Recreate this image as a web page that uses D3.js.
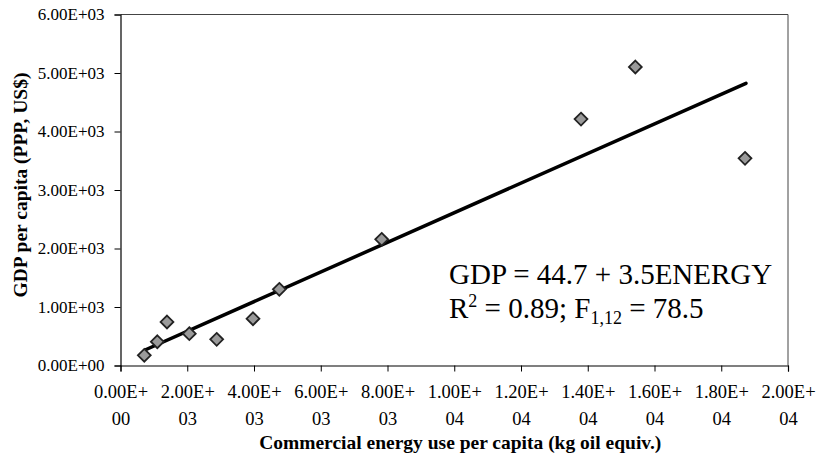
<!DOCTYPE html>
<html>
<head>
<meta charset="utf-8">
<script src="https://cdn.jsdelivr.net/npm/d3@7"></script>
<style>
  body { margin: 0; background: #fff; }
  text { font-family: "Liberation Serif", "Times New Roman", serif; }
</style>
</head>
<body>
<div id="chart"></div>
<script>
// Chart size.
var width = 818;
var height = 464;
var margin = { top: 14.5, right: 30, bottom: 98.5, left: 120.5 };

// Data.
var energy = [713, 1103, 1393, 2062, 2882, 3970, 4759, 7826, 13798, 15426, 18712];
var gdp = [174, 407, 744, 544, 447, 800, 1302, 2157, 4212, 5103, 3541];

// Fitted line end points.
var fitX = [734, 18740];
var fitY = [265, 4824];

var xTicks = [0, 2000, 4000, 6000, 8000, 10000, 12000, 14000, 16000, 18000, 20000];
var yTicks = [0, 1000, 2000, 3000, 4000, 5000, 6000];

var plotW = width - margin.left - margin.right;
var plotH = height - margin.top - margin.bottom;

var svg = d3.select("#chart").append("svg")
    .attr("width", width)
    .attr("height", height);

var g = svg.append("g")
    .attr("transform", "translate(" + margin.left + "," + margin.top + ")");

var x = d3.scaleLinear().domain([0, 20000]).range([0, plotW]);
var y = d3.scaleLinear().domain([0, 6000]).range([plotH, 0]);

// Format like "2.00E+03".
function sci(v) {
  if (v === 0) return "0.00E+00";
  var e = Math.floor(Math.log10(v));
  var m = v / Math.pow(10, e);
  return m.toFixed(2) + "E+" + (e < 10 ? "0" : "") + e;
}

// Plot frame (top and right).
g.append("path")
    .attr("d", "M0,0H" + plotW + "V" + plotH)
    .attr("fill", "none")
    .attr("stroke", "#444")
    .attr("stroke-width", 1);

// Y axis.
var yAxis = g.append("g")
    .call(d3.axisLeft(y).tickValues(yTicks).tickFormat(sci).tickSize(6).tickPadding(10));
yAxis.attr("font-size", null).attr("font-family", null);
yAxis.select(".domain").attr("stroke", "#000").attr("stroke-width", 1.2);
yAxis.selectAll("text")
    .style("font-size", "17px")
    .attr("fill", "#000");

// X axis, labels wrapped in two lines.
var xAxis = g.append("g")
    .attr("transform", "translate(0," + plotH + ")")
    .call(d3.axisBottom(x).tickValues(xTicks).tickFormat("").tickSize(6));
xAxis.attr("font-size", null).attr("font-family", null);
xAxis.select(".domain").attr("stroke", "#000").attr("stroke-width", 1.2);

var xl = xAxis.selectAll(".tick").append("text")
    .attr("text-anchor", "middle")
    .attr("fill", "#000")
    .style("font-size", "18.5px");
xl.append("tspan")
    .attr("x", 0)
    .attr("y", 32)
    .text(function(d) { return sci(d).slice(0, 6); });
xl.append("tspan")
    .attr("x", 0)
    .attr("y", 59)
    .text(function(d) { return sci(d).slice(6); });

// Fitted line.
var line = d3.line()
    .x(function(d) { return x(d[0]); })
    .y(function(d) { return y(d[1]); });
g.append("path")
    .datum(d3.zip(fitX, fitY))
    .attr("d", line)
    .attr("fill", "none")
    .attr("stroke", "#000")
    .attr("stroke-width", 3.5)
    .attr("stroke-linecap", "round");

// Diamond markers.
var diamond = d3.symbol().type(d3.symbolDiamond2).size(105);
g.selectAll(".pt")
    .data(d3.zip(energy, gdp))
    .enter().append("path")
    .attr("class", "pt")
    .attr("transform", function(d) { return "translate(" + x(d[0]) + "," + y(d[1]) + ")"; })
    .attr("d", diamond)
    .attr("fill", "#9a9a9a")
    .attr("stroke", "#222")
    .attr("stroke-width", 1.8);

// Equation text.
var eq = svg.append("g").attr("font-size", 29).attr("fill", "#000");
eq.append("text")
    .attr("x", 449)
    .attr("y", 284)
    .text("GDP = 44.7 + 3.5ENERGY");
var eq2 = eq.append("text")
    .attr("x", 449)
    .attr("y", 318);
eq2.append("tspan").text("R");
eq2.append("tspan").attr("dy", -11).attr("font-size", 18).text("2");
eq2.append("tspan").attr("dy", 11).text(" = 0.89; F");
eq2.append("tspan").attr("dy", 6).attr("font-size", 18).text("1,12");
eq2.append("tspan").attr("dy", -6).text(" = 78.5");

// Axis titles.
svg.append("text")
    .attr("x", margin.left + plotW / 2 + 6)
    .attr("y", 449)
    .attr("text-anchor", "middle")
    .attr("font-size", 19.5)
    .attr("font-weight", "bold")
    .text("Commercial energy use per capita (kg oil equiv.)");

svg.append("text")
    .attr("transform", "translate(27,185) rotate(-90)")
    .attr("text-anchor", "middle")
    .attr("font-size", 19.5)
    .attr("font-weight", "bold")
    .text("GDP per capita (PPP, US$)");
</script>
</body>
</html>
